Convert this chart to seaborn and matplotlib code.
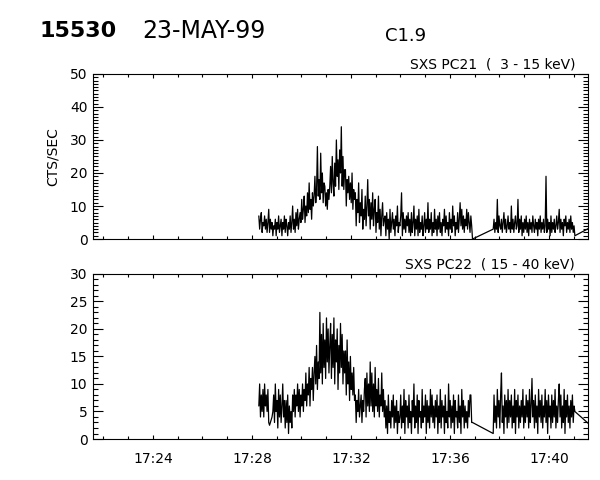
import numpy as np
import pandas as pd
import matplotlib
matplotlib.use("Agg")
import matplotlib.pyplot as plt
from matplotlib.ticker import MultipleLocator, FuncFormatter
import seaborn as sns

# time axis in minutes after 17:00, samples every 2 s inside each data block
cadence = 2.0 / 60.0
seg_a_start = 28.28
seg_b_start = 37.75
tail_time = 41.8

# SXS PC21 (3 - 15 keV), counts/sec
pc21_a = [7, 3, 6, 8, 2, 5, 4, 7, 3, 6, 2, 5,
          9, 2, 6, 3, 5, 1, 4, 3,
          6, 1, 5, 3, 7, 2, 4, 6, 1, 5, 3, 7, 2, 6, 4, 1, 5, 3,
          7, 2, 5, 10, 3, 6, 2, 8, 4, 9, 3, 6,
          8, 5, 12, 6, 9, 13, 5, 10, 7, 14, 8, 17, 9, 12, 6, 14, 10, 13,
          19, 11, 15, 28, 13, 18, 12, 26, 14, 20, 11, 17,
          16, 10, 14, 9, 15, 12, 16,
          22, 14, 25, 17, 13, 23, 16, 30, 19, 24, 15, 27, 20, 34, 16, 25, 15, 21,
          21, 10, 18, 14, 19, 12, 17, 11, 20, 9, 15, 12,
          14, 4, 12, 8, 17, 5, 11, 7, 15, 3, 9, 6,
          13, 4, 10, 18, 7, 12, 3, 11, 6, 14, 4, 9,
          12, 2, 8, 5, 13, 3, 9, 1, 7, 11, 4, 6,
          7, 1, 8, 3, 6, 0, 9, 2, 5, 8, 3, 6, 1, 7, 4, 10, 2, 5,
          4, 7, 14, 1, 8, 3, 6, 2, 7, 4, 8, 2,
          6, 1, 8, 2, 5, 10, 1, 6, 3, 7,
          1, 9, 2, 5, 3, 7, 1, 4, 8, 2,
          6, 3, 11, 2, 6, 3, 8, 1, 5, 2,
          9, 3, 6, 1, 7, 3, 8, 2, 5, 1,
          6, 4, 9, 2, 7, 3, 5, 1, 8, 3,
          6, 2, 10, 4, 7, 1, 5, 3, 8, 2,
          6, 11, 4, 9, 3, 7, 2, 6, 4, 9,
          3, 8, 5, 2, 7, 4, 0]
pc21_b = [3, 6, 2, 5, 3, 12, 2, 7, 4, 3, 6, 2, 5, 8, 3, 6, 2, 4, 7, 3,
          5, 2, 10, 3, 6, 2, 5, 7, 3, 4, 12, 2,
          6, 3, 7, 1, 5, 2, 6, 3, 7, 2, 5, 1, 6, 3, 5, 2, 7, 4, 2, 6,
          3, 5, 1, 6, 3, 7, 2, 5, 3, 6, 2, 4,
          19,
          2, 6, 3, 5, 1, 7, 2, 5, 3, 6, 2, 4, 7, 3, 5, 9, 2, 6, 3, 5,
          1, 6, 4, 7, 2, 5, 3, 6, 2, 7, 3, 5, 2, 4, 1]
pc21_tail = [4]

# SXS PC22 (15 - 40 keV), counts/sec
pc22_a = [6, 10, 4, 8, 5, 9, 4, 10, 6, 8, 5, 9,
          3, 2.5, 3, 3.5, 4, 5,
          8, 3, 10, 5, 7, 2, 9, 4, 8, 3, 6, 10, 4, 7,
          2, 7, 3, 8, 1, 6, 3, 5, 2, 8,
          5, 9, 4, 8, 6, 10, 5, 9, 4, 8, 6, 10, 5, 9,
          7, 12, 6, 10, 8, 13, 6, 11, 9, 13, 7, 12,
          15, 10, 17, 9, 14, 11,
          23, 12, 19, 10, 21, 13, 18, 11, 22, 14, 20, 12, 17,
          21, 11, 19, 13, 22, 10, 18, 14, 20, 9, 17, 12, 21, 13, 19, 10, 16, 12,
          16, 8, 18, 10, 14, 7, 15, 9, 12, 8, 13, 7,
          8, 3, 7, 5, 9, 4, 6, 8, 3, 7, 5, 9,
          11, 4, 12, 6, 10, 5, 14, 6, 12, 5, 10, 4,
          13, 6, 9, 5, 11, 4, 8, 6, 12, 5, 9, 4,
          7, 2, 6, 1, 8, 3, 5, 2, 7, 4, 8, 2, 6, 3, 7, 1, 5, 3,
          4, 8, 2, 6, 3, 9, 1, 7, 4, 6,
          2, 8, 3, 5, 1, 7, 4, 10, 2, 6,
          3, 8, 1, 7, 4, 5, 2, 9, 3, 6,
          4, 8, 1, 7, 3, 6, 2, 9, 4, 8,
          3, 6, 2, 7, 4, 8, 1, 6, 3, 9,
          2, 7, 4, 6, 1, 8, 3, 5, 2, 10,
          4, 7, 2, 6, 3, 8, 1, 7, 4, 5,
          2, 8, 3, 6, 1, 9, 4, 7, 2, 6,
          3, 5, 2, 7, 4, 8, 8, 3, 3]
pc22_b = [1, 8, 3, 6, 2, 9, 4, 7, 2, 8, 12, 3, 6, 1, 8, 4, 7, 2, 9, 3,
          7, 4, 8, 2, 6, 3, 9, 1, 7, 4, 8, 2, 6, 3, 7, 4, 9, 2, 6, 3,
          8, 4, 7, 2, 9, 3, 6, 11, 4, 7, 2, 8, 3, 6, 1, 9, 4, 7, 3, 8,
          2, 6, 4, 9, 3, 7, 1, 8, 4, 6, 2, 8, 3, 7, 4, 9, 2, 6, 3, 7,
          10, 4, 8, 2, 6, 3, 9, 1, 7, 4, 8, 3, 6, 2, 7, 4, 8, 3, 6, 5]
pc22_tail = [2]

panels = [
    ("SXS PC21  (  3 - 15 keV)", pc21_a, pc21_b, pc21_tail, 50, 10),
    ("SXS PC22  ( 15 - 40 keV)", pc22_a, pc22_b, pc22_tail, 30, 5),
]


def build_frame(a, b, tail):
    t = np.concatenate([seg_a_start + cadence * np.arange(len(a)),
                        seg_b_start + cadence * np.arange(len(b)),
                        [tail_time]])
    return pd.DataFrame({"t": t, "cts": list(a) + list(b) + list(tail)})


sns.set_style("white")
plt.rcParams['font.family'] = ['DejaVu Sans']
plt.rcParams['text.color'] = 'black'
plt.rcParams['xtick.color'] = 'black'
plt.rcParams['ytick.color'] = 'black'

fig = plt.figure(figsize=(6, 4.8), dpi=100)
boxes = [[0.155, 0.502, 0.825, 0.344], [0.155, 0.0854, 0.825, 0.344]]

for i, (label, a, b, tail, ymax, ystep) in enumerate(panels):
    ax = fig.add_axes(boxes[i])
    df = build_frame(a, b, tail)
    sns.lineplot(data=df, x="t", y="cts", ax=ax, color="black",
                 linewidth=0.9, sort=False, estimator=None)
    ax.set_xlim(21.58, 41.58)
    ax.set_ylim(0, ymax)
    ax.set_xlabel("")
    ax.set_ylabel("")

    ax.xaxis.set_major_locator(MultipleLocator(4))
    ax.xaxis.set_minor_locator(MultipleLocator(1))
    ax.yaxis.set_major_locator(MultipleLocator(ystep))
    ax.yaxis.set_minor_locator(MultipleLocator(1))

    ax.tick_params(axis="y", which="major", direction="in", length=7,
                   width=0.8, left=True, right=True, labelsize=10, pad=4)
    ax.tick_params(axis="y", which="minor", direction="in", length=3.6,
                   width=0.8, left=True, right=True)
    ax.tick_params(axis="x", which="major", direction="in", length=3,
                   width=0.8, bottom=True, top=True, labelsize=10, pad=9)
    ax.tick_params(axis="x", which="minor", direction="in", length=2,
                   width=0.8, bottom=True, top=True)
    if i == 0:
        ax.tick_params(axis="x", labelbottom=False)
    else:
        ax.xaxis.set_major_formatter(
            FuncFormatter(lambda m, pos: f"17:{int(round(m)):02d}"))
    for s in ax.spines.values():
        s.set_linewidth(0.8)
        s.set_color("black")

    ax.text(0.974, 1.012, label, transform=ax.transAxes, ha="right",
            va="bottom", fontsize=10)

fig.text(53 / 600, 1 - 157 / 480, "CTS/SEC", rotation=90, ha="center",
         va="center", fontsize=10)
fig.text(40 / 600, 1 - 31 / 480, "15530", fontsize=16, fontweight="bold",
         ha="left", va="center")
fig.text(142 / 600, 1 - 31 / 480, "23-MAY-99", fontsize=17, ha="left",
         va="center")
fig.text(385 / 600, 1 - 36 / 480, "C1.9", fontsize=13, ha="left",
         va="center")

fig.savefig("out.png", dpi=100, facecolor="white")
